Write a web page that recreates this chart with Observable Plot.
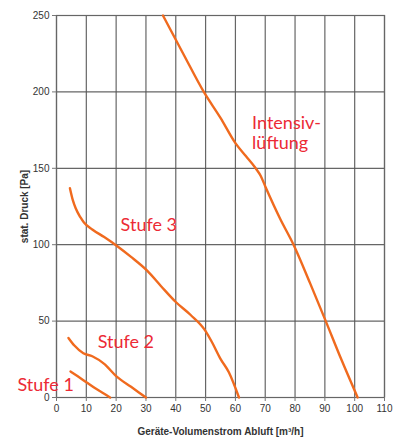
<!DOCTYPE html>
<html>
<head>
<meta charset="utf-8">
<script src="https://cdn.jsdelivr.net/npm/d3@7"></script>
<script src="https://cdn.jsdelivr.net/npm/@observablehq/plot@0.6"></script>
<style>
  html, body { margin: 0; padding: 0; background: #fff; }
  #chart svg { display: block; }
  #chart [aria-label="x-axis label"] text, #chart [aria-label="y-axis label"] text { font-weight: bold; }
</style>
</head>
<body>
<div id="chart"></div>
<script>
// Series (x = Volumenstrom m³/h, y = Druck Pa)
const stufe1X = [4.7, 7, 10, 13, 16, 18];
const stufe1Y = [17, 14, 10, 6, 2.5, 0];

const stufe2X = [4, 6, 9, 12, 16, 20, 25, 30];
const stufe2Y = [39, 34, 29, 27, 22, 14, 7, 0];

const stufe3X = [4.5, 5.5, 6.4, 8, 9.2, 12, 16, 20.4, 25, 30.4, 35, 40, 45, 50, 52.2, 55, 57.8, 61.2];
const stufe3Y = [137, 129, 124, 118, 114.6, 110, 105, 99, 92, 83, 73, 62.5, 54, 43.5, 36, 25.3, 16.5, 0];

const intensivX = [35.7, 42.5, 49.4, 55, 60, 63.5, 66.8, 68.5, 70.1, 75, 79.5, 85, 90.3, 95.5, 101];
const intensivY = [250, 225, 200, 183, 166.5, 158, 150, 145, 137.8, 117, 100, 75, 50, 25, 0];

const seriesNames = ["Stufe 1", "Stufe 2", "Stufe 3", "Intensivlüftung"];
const labelTexts = ["Stufe 1", "Stufe 2", "Stufe 3", "Intensiv-\nlüftung"];
const labelX = [-13.1, 13.8, 21.5, 65.6];
const labelY = [8.5, 36.6, 113, 173.4];

const xTicks = [0, 10, 20, 30, 40, 50, 60, 70, 80, 90, 100, 110];
const yTicks = [0, 50, 100, 150, 200, 250];

const toPts = (xs, ys, s) => xs.map((x, i) => ({x, y: ys[i], s}));
const curves = [
  ...toPts(stufe1X, stufe1Y, seriesNames[0]),
  ...toPts(stufe2X, stufe2Y, seriesNames[1]),
  ...toPts(stufe3X, stufe3Y, seriesNames[2]),
  ...toPts(intensivX, intensivY, seriesNames[3])
];
const labels = labelTexts.map((t, i) => ({t, x: labelX[i], y: labelY[i]}));

const chart = Plot.plot({
  width: 401,
  height: 441,
  marginLeft: 56,
  marginRight: 17,
  marginTop: 15,
  marginBottom: 44,
  style: {fontFamily: "Liberation Sans, Arial, sans-serif", fontSize: "10px", color: "#333", background: "#fff"},
  x: {domain: [0, 110]},
  y: {domain: [0, 250]},
  marks: [
    Plot.gridX(xTicks, {stroke: "#555", strokeOpacity: 0.9, strokeWidth: 1.2}),
    Plot.gridY(yTicks, {stroke: "#555", strokeOpacity: 0.9, strokeWidth: 1.2}),
    Plot.frame({stroke: "#666", strokeWidth: 1.2}),
    Plot.axisX(xTicks, {tickSize: 4, tickPadding: 3, label: "Geräte-Volumenstrom Abluft [m³/h]", labelAnchor: "center", labelOffset: 37, labelArrow: "none", fill: "#333", stroke: "#777"}),
    Plot.axisY(yTicks, {tickSize: 4, tickPadding: 3, label: "stat. Druck [Pa]", labelAnchor: "center", labelOffset: 36, labelArrow: "none", fill: "#333", stroke: "#777"}),
    Plot.line(curves, {x: "x", y: "y", z: "s", stroke: "#f06a1e", strokeWidth: 2.4, curve: "monotone-x"}),
    Plot.text(labels, {x: "x", y: "y", text: "t", textAnchor: "start", fill: "#ec2a35", fontSize: 18, fontFamily: "Lato, sans-serif", lineHeight: 1.1, clip: false})
  ]
});
document.getElementById("chart").appendChild(chart);
</script>
</body>
</html>
